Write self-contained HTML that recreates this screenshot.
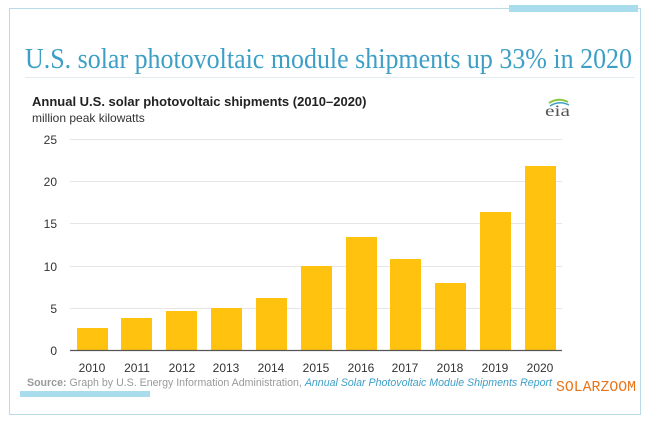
<!DOCTYPE html>
<html><head><style>
body{margin:0;width:657px;height:422px;background:#fff;position:relative;overflow:hidden;font-family:"Liberation Sans",sans-serif}
.a{position:absolute}
</style></head><body>
<div class="a" style="left:9px;top:8px;width:630px;height:405px;border:1px solid #b8dbe6"></div>
<div class="a" style="left:509px;top:5px;width:129px;height:7px;background:#a9dcec"></div>
<div class="a" style="left:20px;top:391px;width:130px;height:6px;background:#a9dcec"></div>
<div class="a" style="left:25px;top:77px;width:610px;height:1px;background:#e4eef2"></div>
<div class="a" style="left:32px;top:94px;font-size:13px;font-weight:bold;color:#222">Annual U.S. solar photovoltaic shipments (2010–2020)</div>
<div class="a" style="left:32px;top:111px;font-size:12px;color:#333">million peak kilowatts</div>
<svg class="a" style="left:0;top:0" width="657" height="422">
<text x="25" y="68" font-family="Liberation Serif,serif" font-size="29" fill="#3d9fc6" textLength="607" lengthAdjust="spacingAndGlyphs">U.S. solar photovoltaic module shipments up 33% in 2020</text>
<text x="545" y="116" font-family="Liberation Serif,serif" font-size="16" fill="#555" textLength="25" lengthAdjust="spacingAndGlyphs">eia</text>
<path d="M549 103 Q558 97 568 102" stroke="#8cc63f" stroke-width="2" fill="none"/>
<path d="M550 106 Q559 100 569 105" stroke="#3d9fc6" stroke-width="1.5" fill="none"/>
<g stroke="#e6e6e6" stroke-width="1">
<line x1="70" x2="562" y1="139.5" y2="139.5"/><line x1="70" x2="562" y1="181.5" y2="181.5"/><line x1="70" x2="562" y1="223.5" y2="223.5"/><line x1="70" x2="562" y1="266.5" y2="266.5"/><line x1="70" x2="562" y1="308.5" y2="308.5"/></g>
<g fill="#ffc20e">
<rect x="77" y="328" width="31" height="22"/>
<rect x="121" y="318" width="31" height="32"/>
<rect x="166" y="311" width="31" height="39"/>
<rect x="211" y="308" width="31" height="42"/>
<rect x="256" y="298" width="31" height="52"/>
<rect x="301" y="266" width="31" height="84"/>
<rect x="346" y="237" width="31" height="113"/>
<rect x="390" y="259" width="31" height="91"/>
<rect x="435" y="283" width="31" height="67"/>
<rect x="480" y="212" width="31" height="138"/>
<rect x="525" y="166" width="31" height="184"/>
</g>
<line x1="70" x2="562" y1="350.5" y2="350.5" stroke="#555" stroke-width="1.2"/>
<g font-size="12" fill="#333" text-anchor="end">
<text x="57" y="144">25</text><text x="57" y="186">20</text><text x="57" y="228">15</text><text x="57" y="271">10</text><text x="57" y="313">5</text><text x="57" y="355">0</text></g>
<g font-size="12" fill="#333" text-anchor="middle">
<text x="92" y="372">2010</text><text x="137" y="372">2011</text><text x="182" y="372">2012</text><text x="226" y="372">2013</text><text x="271" y="372">2014</text><text x="316" y="372">2015</text><text x="361" y="372">2016</text><text x="405" y="372">2017</text><text x="450" y="372">2018</text><text x="495" y="372">2019</text><text x="540" y="372">2020</text></g>
<text x="27" y="386" font-size="11" fill="#999" textLength="525" lengthAdjust="spacingAndGlyphs"><tspan font-weight="bold">Source:</tspan> Graph by U.S. Energy Information Administration, <tspan fill="#3d9fc6" font-style="italic">Annual Solar Photovoltaic Module Shipments Report</tspan></text>
<text x="556" y="391" font-family="Liberation Mono,monospace" font-size="15" fill="#e8751a" textLength="80" lengthAdjust="spacingAndGlyphs">SOLARZOOM</text>
</svg>
</body></html>
